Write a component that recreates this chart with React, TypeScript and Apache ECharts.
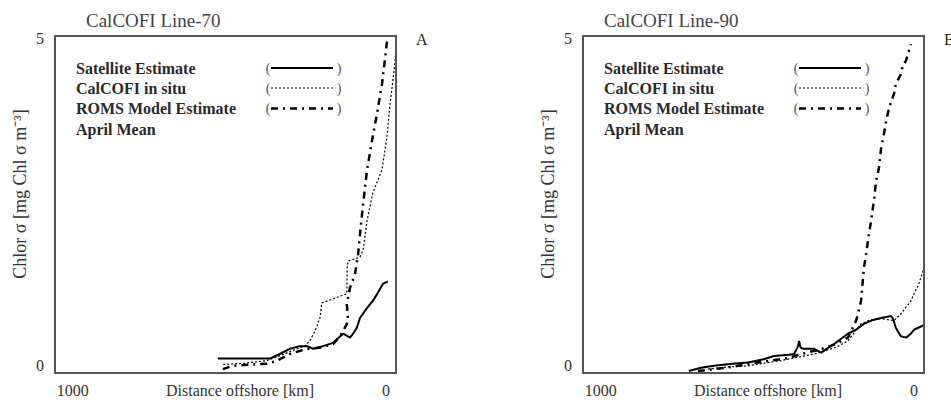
import React, { useEffect, useRef } from "react";
import * as echarts from "echarts";

// ---- Data (distance offshore in km, chlorophyll in mg Chl a m^-3) ----
const panelTitles = ["CalCOFI Line-70", "CalCOFI Line-90"];
const panelLetters = ["A", "B"];
const xTickValues = [0, 1000];
const yTickValues = [0, 5];
const legendNames = ["Satellite Estimate", "CalCOFI in situ", "ROMS Model Estimate", "April Mean"];

// Line-70
const sat70Km = [537, 371, 339, 307, 275, 252, 233, 201, 169, 137, 115, 105, 93, 83, 61, 42, 29, 10, -6];
const sat70Val = [0.11, 0.11, 0.18, 0.26, 0.30, 0.30, 0.26, 0.30, 0.35, 0.49, 0.43, 0.49, 0.58, 0.73, 0.88, 0.99, 1.09, 1.25, 1.29];
const cal70Km = [520, 450, 380, 330, 290, 260, 243, 225, 211, 205, 169, 137, 125, 124, 121, 83, 73, 61, 42, 13, -3, -13, -22, -29, -32];
const cal70Val = [0.02, 0.04, 0.08, 0.17, 0.25, 0.30, 0.38, 0.55, 0.73, 0.96, 1.02, 1.08, 1.10, 1.49, 1.60, 1.66, 1.77, 2.2, 2.64, 2.99, 3.49, 4.0, 4.35, 4.65, 4.85];
const roms70Km = [521, 489, 430, 380, 348, 307, 260, 210, 169, 140, 125, 121, 125, 115, 99, 89, 83, 73, 61, 45, 29, 13, 3, -3];
const roms70Val = [-0.05, 0.0, 0.02, 0.03, 0.08, 0.18, 0.25, 0.28, 0.33, 0.50, 0.64, 0.69, 0.94, 1.19, 1.40, 1.70, 2.01, 2.47, 2.97, 3.43, 3.84, 4.29, 4.69, 4.95];

// Line-90
const sat90Km = [719, 680, 639, 580, 530, 480, 447, 400, 383, 370, 367, 362, 355, 319, 297, 256, 211, 185, 160, 130, 105, 73, 67, 58, 42, 25, 10, 0, -32];
const sat90Val = [-0.08, -0.03, 0.0, 0.03, 0.05, 0.10, 0.15, 0.17, 0.18, 0.30, 0.38, 0.28, 0.26, 0.26, 0.20, 0.33, 0.49, 0.55, 0.64, 0.70, 0.73, 0.76, 0.72, 0.58, 0.45, 0.43, 0.49, 0.55, 0.62];
const cal90Km = [658, 600, 530, 425, 319, 250, 211, 169, 140, 105, 64, 42, 10, 0, -13, -32];
const cal90Val = [-0.05, -0.02, 0.0, 0.08, 0.18, 0.28, 0.38, 0.64, 0.70, 0.72, 0.69, 0.79, 0.99, 1.10, 1.22, 1.49];
const roms90Km = [690, 600, 500, 400, 361, 300, 250, 211, 185, 179, 169, 160, 153, 144, 137, 128, 121, 112, 105, 96, 89, 80, 64, 58, 42, 35, 26, 10];
const roms90Val = [-0.08, -0.03, 0.05, 0.12, 0.18, 0.25, 0.33, 0.43, 0.69, 0.79, 0.99, 1.49, 1.70, 2.01, 2.21, 2.52, 2.82, 3.02, 3.32, 3.54, 3.73, 3.93, 4.15, 4.30, 4.45, 4.60, 4.65, 4.91];

const zip = (a: number[], b: number[]) => a.map((v, i) => [v, b[i]]);

const FONT = "Liberation Serif";
const TXT = "#333";
const GRID_LEFTS = [55, 583];
const GRID_TOP = 36;
const GRID_W = 341;
const GRID_H = 337;

export default function App() {
  const ref = useRef<HTMLDivElement>(null);
  useEffect(() => {
    if (!ref.current) return;
    const chart = echarts.init(ref.current, undefined, { renderer: "svg" });

    const lineStyles = [
      { color: "#000", width: 2, type: "solid" as any },
      { color: "#000", width: 1.2, type: [2, 2] as any },
      { color: "#000", width: 2.5, type: [7, 5, 2, 5] as any },
    ];

    const seriesData = [
      [zip(sat70Km, sat70Val), zip(cal70Km, cal70Val), zip(roms70Km, roms70Val)],
      [zip(sat90Km, sat90Val), zip(cal90Km, cal90Val), zip(roms90Km, roms90Val)],
    ];

    const graphic: any[] = [];
    GRID_LEFTS.forEach((gl, p) => {
      const dx = gl - 55;
      graphic.push({
        type: "text", x: 86 + dx - (p === 1 ? 10 : 0), y: 20,
        style: { text: panelTitles[p], fontFamily: FONT, fontSize: 19, fill: "#444", verticalAlign: "middle" },
      });
      graphic.push({
        type: "text", x: 416 + dx, y: 39,
        style: { text: panelLetters[p], fontFamily: FONT, fontSize: 16, fill: "#222", verticalAlign: "middle" },
      });
      graphic.push({
        type: "text", x: 20 + dx, y: 194, rotation: Math.PI / 2,
        style: { text: "Chlor σ [mg Chl σ m⁻³]", fontFamily: FONT, fontSize: 18, fill: TXT, align: "center", verticalAlign: "middle" },
      });
      const rowYs = [68, 88, 108.5, 129];
      legendNames.forEach((n, i) => {
        graphic.push({
          type: "text", x: 76 + dx, y: rowYs[i],
          style: { text: n, fontFamily: FONT, fontWeight: "bold", fontSize: 16, fill: "#2a2a2a", verticalAlign: "middle" },
        });
      });
      for (let i = 0; i < 3; i++) {
        graphic.push({
          type: "text", x: 268 + dx, y: rowYs[i],
          style: { text: "(", fontFamily: FONT, fontSize: 14, fill: "#555", align: "center", verticalAlign: "middle" },
        });
        graphic.push({
          type: "text", x: 339 + dx, y: rowYs[i],
          style: { text: ")", fontFamily: FONT, fontSize: 14, fill: "#555", align: "center", verticalAlign: "middle" },
        });
        graphic.push({
          type: "line", shape: { x1: 271 + dx, y1: rowYs[i], x2: 333 + dx, y2: rowYs[i] },
          style: { stroke: "#000", lineWidth: lineStyles[i].width, lineDash: Array.isArray(lineStyles[i].type) ? lineStyles[i].type : null },
        });
      }
    });

    const option: any = {
      animation: false,
      backgroundColor: "#fff",
      grid: GRID_LEFTS.map((l) => ({
        left: l, top: GRID_TOP, width: GRID_W, height: GRID_H,
        show: true, borderColor: "#555", borderWidth: 2, backgroundColor: "transparent",
        outerBoundsMode: "none", containLabel: false,
      })),
      xAxis: GRID_LEFTS.map((_, i) => ({
        type: "value", gridIndex: i, inverse: true, min: -32, max: 1057,
        axisLine: { show: false }, axisTick: { show: false }, splitLine: { show: false },
        axisLabel: { customValues: xTickValues, formatter: (v: number) => String(v), fontFamily: FONT, fontSize: 16, color: TXT, margin: 9 },
        name: "Distance offshore [km]", nameLocation: "middle", nameGap: 9, nameMoveOverlap: false,
        nameTextStyle: { fontFamily: FONT, fontSize: 16, color: TXT, padding: [0, 0, 0, 29], verticalAlign: "top" },
      })),
      yAxis: GRID_LEFTS.map((_, i) => ({
        type: "value", gridIndex: i, min: -0.11, max: 5.035,
        axisLine: { show: false }, axisTick: { show: false }, splitLine: { show: false },
        axisLabel: { customValues: yTickValues, fontFamily: FONT, fontSize: 16, color: TXT, margin: 11 },
      })),
      series: seriesData.flatMap((panel, p) =>
        panel.map((d, s) => ({
          type: "line", xAxisIndex: p, yAxisIndex: p, data: d,
          name: legendNames[s], showSymbol: false, symbol: "none",
          lineStyle: lineStyles[s], silent: true,
        }))
      ),
      graphic,
    };
    chart.setOption(option);
    return () => chart.dispose();
  }, []);
  return (
    <div style={{ position: "absolute", left: 0, top: 0, width: 951, height: 400 }}>
      <div ref={ref} style={{ position: "absolute", left: 0, top: 0, width: 951, height: 400 }} />
      {GRID_LEFTS.map((l) => (
        <div
          key={l}
          style={{
            position: "absolute", left: l - 1, top: GRID_TOP - 1, width: GRID_W + 2, height: GRID_H + 2,
            border: "2px solid #555", boxSizing: "border-box", pointerEvents: "none",
          }}
        />
      ))}
    </div>
  );
}
